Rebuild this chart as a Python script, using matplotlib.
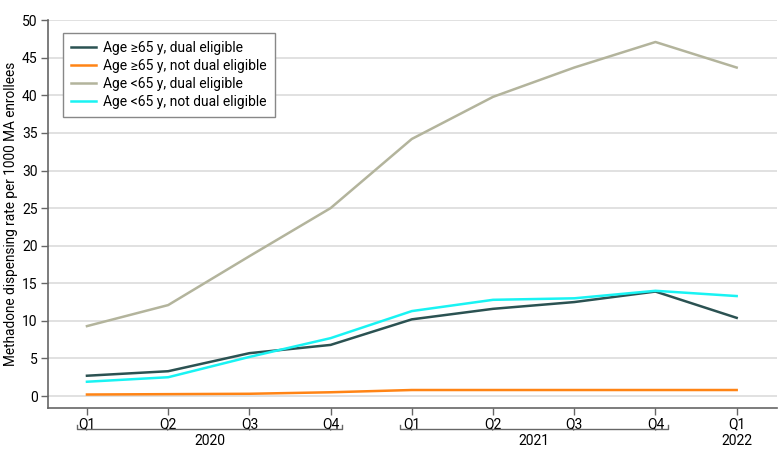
import matplotlib
matplotlib.use("Agg")
import matplotlib.pyplot as plt
import matplotlib.transforms as mtransforms

plt.rcParams["font.family"] = ["Roboto", "DejaVu Sans"]

quarters = ["Q1", "Q2", "Q3", "Q4", "Q1", "Q2", "Q3", "Q4", "Q1"]
years = ["2020", "2021", "2022"]

age65_dual = [2.7, 3.3, 5.7, 6.8, 10.2, 11.6, 12.5, 13.9, 10.4]
age65_not_dual = [0.2, 0.25, 0.3, 0.5, 0.8, 0.8, 0.8, 0.8, 0.8]
under65_dual = [9.3, 12.1, 18.6, 25.0, 34.2, 39.8, 43.7, 47.1, 43.7]
under65_not_dual = [1.9, 2.5, 5.2, 7.7, 11.3, 12.8, 13.0, 14.0, 13.3]

series = [
    ("Age \u226565 y, dual eligible", age65_dual, "#2b5252"),
    ("Age \u226565 y, not dual eligible", age65_not_dual, "#ff8415"),
    ("Age <65 y, dual eligible", under65_dual, "#b3b49c"),
    ("Age <65 y, not dual eligible", under65_not_dual, "#19f3f3"),
]

fig = plt.figure(figsize=(7.8, 4.59), dpi=100)
ax = fig.add_axes([0.0615, 0.111, 0.935, 0.845])

x = list(range(len(quarters)))
for label, vals, color in series:
    ax.plot(x, vals, color=color, lw=1.8, label=label, zorder=3)

ax.set_xlim(-0.48, 8.5)
ax.set_ylim(-1.6, 50)
ax.set_yticks(range(0, 51, 5))
ax.set_xticks(x)
ax.set_xticklabels(quarters)
ax.grid(axis="y", color="#dcdcdc", lw=1.2, zorder=0)
ax.tick_params(axis="both", labelsize=10, color="#666666", length=5, width=1)
ax.tick_params(axis="x", pad=1.5)
ax.tick_params(axis="y", pad=2.5)
for s in ["top", "right"]:
    ax.spines[s].set_visible(False)
for s in ["left", "bottom"]:
    ax.spines[s].set_color("#666666")
    ax.spines[s].set_linewidth(1.2)

ax.set_ylabel("Methadone dispensing rate per 1000 MA enrollees", fontsize=9.8, labelpad=3)

# year brackets under the quarter labels
trans = mtransforms.blended_transform_factory(ax.transData, ax.transAxes)
brackets = [(-0.12, 3.14, years[0]), (3.86, 7.15, years[1])]
for x0, x1, yr in brackets:
    ax.plot([x0, x0, x1, x1], [-0.044, -0.055, -0.055, -0.044], color="#666666",
            lw=1, transform=trans, clip_on=False)
    ax.text((x0 + x1) / 2, -0.086, yr, transform=trans, ha="center", va="center", fontsize=10)
ax.text(8, -0.086, years[2], transform=trans, ha="center", va="center", fontsize=10)

leg = ax.legend(loc="upper left", bbox_to_anchor=(0.011, 0.985), fontsize=10,
                fancybox=False, edgecolor="#888888", framealpha=1,
                handlelength=1.8, handletextpad=0.5, borderpad=0.6, labelspacing=0.28)
leg.get_frame().set_linewidth(1.0)

fig.savefig("out.png", dpi=100)
